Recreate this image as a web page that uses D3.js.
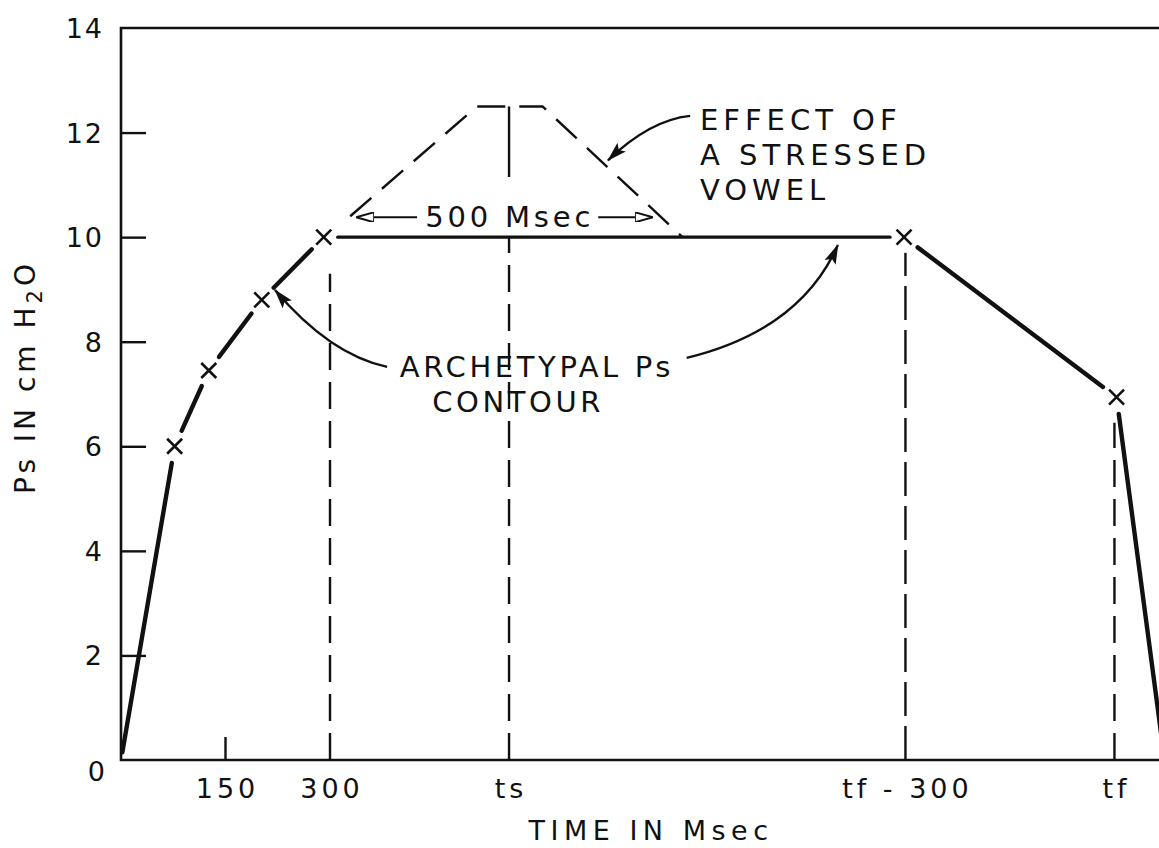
<!DOCTYPE html>
<html><head><meta charset="utf-8">
<script src="https://cdn.jsdelivr.net/npm/d3@7"></script>
<style>
body{margin:0;background:#fff}
svg text{font-family:"DejaVu Sans",sans-serif;fill:#111}
</style>
</head><body>
<svg id="c" width="1159" height="848"></svg>
<script>
// ---------- data ----------
const xDomain = [0, 1500];           // time, ms (ts and tf placed on the same scale)
const yDomain = [0, 14];             // Ps in cm H2O
const yTickValues = [0, 2, 4, 6, 8, 10, 12, 14];
const yTickLabels = ["0", "2", "4", "6", "8", "10", "12", "14"];
const xTickValues = [150, 300, 557, 1126, 1426];
const xTickLabels = ["150", "300", "ts", "tf - 300", "tf"];
// archetypal Ps contour
const contourTimes  = [2, 77, 126, 202, 291, 1124, 1429, 1498];
const contourValues = [0.15, 6, 7.45, 8.8, 10, 10, 6.94, 0];
const markerIndex   = [1, 2, 3, 4, 5, 6];
// effect of a stressed vowel (dashed)
const vowelTimes  = [329, 511, 605, 806];
const vowelValues = [10.4, 12.5, 12.5, 10];
// vertical reference lines (dashed)
const guideTimes  = [300, 557, 1126, 1426];
const guideTops   = [9.3, 10, 9.7, 6.45];
const tsStemTop = 12.5, tsStemBottom = 11.15;
// annotations [time, value]
const effectLines = ["EFFECT OF", "A STRESSED", "VOWEL"];
const effectPos = [831, 12.05];
const effectArrow = [[817, 12.32], [759, 12.24], [699, 11.47]];
const archLines = ["ARCHETYPAL Ps", "CONTOUR"];
const archPos = [[597, 7.32], [570, 6.65]];
const archArrowLeft  = [[382, 7.52], [300, 7.75], [221, 8.99]];
const archArrowRight = [[812, 7.69], [975, 8.22], [1029, 9.85]];
const spanLabel = "500 Msec";
const spanPos = [558, 10.19];
const spanArrowLeft  = [[425, 10.38], [339, 10.38]];
const spanArrowRight = [[685, 10.38], [762, 10.38]];

// ---------- layout ----------
const svg = d3.select("#c");
const x = d3.scaleLinear().domain(xDomain).range([121, 1166]);
const y = d3.scaleLinear().domain(yDomain).range([760, 28]);
const ink = "#111";

const defs = svg.append("defs");
defs.append("marker").attr("id", "ah").attr("viewBox", "0 0 20 12")
  .attr("refX", 19).attr("refY", 6).attr("markerWidth", 20).attr("markerHeight", 12)
  .attr("markerUnits", "userSpaceOnUse").attr("orient", "auto")
  .append("path").attr("d", "M0,0 L20,6 L0,12 L4,6 Z").attr("fill", ink);
defs.append("marker").attr("id", "ah2").attr("viewBox", "0 0 18 10")
  .attr("refX", 17).attr("refY", 5).attr("markerWidth", 18).attr("markerHeight", 10)
  .attr("markerUnits", "userSpaceOnUse").attr("orient", "auto")
  .append("path").attr("d", "M0,0 L18,5 L0,10 Z").attr("fill", "#fff").attr("stroke", ink).attr("stroke-width", 2);

// frame
const g = svg.append("g");
g.append("path")
  .attr("d", `M${x(xDomain[1]) + 10},${y(14)} L${x(0)},${y(14)} L${x(0)},${y(0)} L${x(xDomain[1]) + 10},${y(0)}`)
  .attr("fill", "none").attr("stroke", ink).attr("stroke-width", 2.6);

// y ticks (inward) + labels
const yAxis = d3.axisRight(y).tickValues(yTickValues.filter(v => v > 0 && v < 14))
  .tickSize(25).tickFormat("");
g.append("g").attr("transform", `translate(${x(0)},0)`).call(yAxis)
  .call(s => s.select(".domain").remove())
  .call(s => s.selectAll("line").attr("stroke", ink).attr("stroke-width", 2.4));
g.selectAll(".ylab").data(yTickValues).join("text")
  .attr("class", "ylab")
  .attr("x", d => d === 0 ? x(0) - 14 : x(0) - 17)
  .attr("y", d => d === 0 ? y(d) + 21 : y(d) + 10)
  .attr("text-anchor", "end").attr("font-size", 27).attr("letter-spacing", 2)
  .text((d, i) => yTickLabels[i]);

// x tick at 150 (inward)
g.append("line").attr("x1", x(150)).attr("x2", x(150)).attr("y1", y(0)).attr("y2", y(0) - 23)
  .attr("stroke", ink).attr("stroke-width", 2.4);
g.selectAll(".xlab").data(xTickValues).join("text")
  .attr("class", "xlab")
  .attr("x", d => x(d) + 2).attr("y", y(0) + 38)
  .attr("text-anchor", "middle").attr("font-size", 27).attr("letter-spacing", 4)
  .text((d, i) => xTickLabels[i]);

// axis titles
svg.append("text").attr("x", 651).attr("y", 840).attr("text-anchor", "middle")
  .attr("font-size", 27).attr("letter-spacing", 5.5).text("TIME IN Msec");
const yt = svg.append("text").attr("transform", "translate(35,377) rotate(-90)")
  .attr("text-anchor", "middle").attr("font-size", 28).attr("letter-spacing", 4);
yt.append("tspan").text("Ps  IN cm H");
yt.append("tspan").attr("dy", 7).attr("font-size", 21).text("2");
yt.append("tspan").attr("dy", -7).text("O");

// dashed vertical guides
guideTimes.forEach((t, i) => {
  g.append("path").attr("d", d3.line()([[x(t), y(0)], [x(t), y(guideTops[i])]]))
    .attr("stroke", ink).attr("stroke-width", 2.4).attr("fill", "none")
    .attr("stroke-dasharray", i === 2 ? "34,10" : "27,12");
});
g.append("path").attr("d", d3.line()([[x(guideTimes[1]), y(tsStemTop)], [x(guideTimes[1]), y(tsStemBottom)]]))
  .attr("stroke", ink).attr("stroke-width", 2.4);

// stressed vowel dashed contour
g.append("path")
  .attr("d", d3.line().x((d, i) => x(vowelTimes[i])).y(d => y(d))(vowelValues))
  .attr("fill", "none").attr("stroke", ink).attr("stroke-width", 2.4)
  .attr("stroke-dasharray", "28,14");

// archetypal contour: solid segments interrupted at the X markers
const pts = contourTimes.map((t, i) => [x(t), y(contourValues[i])]);
for (let i = 0; i < pts.length - 1; i++) {
  const a = pts[i], b = pts[i + 1];
  const dx = b[0] - a[0], dy = b[1] - a[1], L = Math.hypot(dx, dy);
  const ux = dx / L, uy = dy / L;
  const horiz = Math.abs(dy) < 1;
  const gap = horiz ? 14 : 17;
  const s = markerIndex.includes(i) ? gap : 0;
  const e = markerIndex.includes(i + 1) ? gap : 0;
  g.append("path")
    .attr("d", d3.line()([[a[0] + ux * s, a[1] + uy * s], [b[0] - ux * e, b[1] - uy * e]]))
    .attr("stroke", ink).attr("stroke-width", horiz ? 3.2 : 4.4).attr("stroke-linecap", "round").attr("fill", "none");
}
// X markers
g.selectAll(".xm").data(markerIndex).join("path")
  .attr("class", "xm")
  .attr("d", i => { const [px, py] = pts[i]; const h = 7.5;
    return `M${px - h},${py - h}L${px + h},${py + h}M${px + h},${py - h}L${px - h},${py + h}`; })
  .attr("stroke", ink).attr("stroke-width", 2.6).attr("fill", "none");

// curved annotation arrows
function curve(p) {
  const c = d3.path();
  c.moveTo(x(p[0][0]), y(p[0][1]));
  c.quadraticCurveTo(x(p[1][0]), y(p[1][1]), x(p[2][0]), y(p[2][1]));
  return c.toString();
}
[effectArrow, archArrowLeft, archArrowRight].forEach(p => {
  g.append("path").attr("d", curve(p)).attr("fill", "none").attr("stroke", ink)
    .attr("stroke-width", 2.4).attr("marker-end", "url(#ah)");
});
[spanArrowLeft, spanArrowRight].forEach(p => {
  g.append("path").attr("d", d3.line()(p.map(q => [x(q[0]), y(q[1])])))
    .attr("fill", "none").attr("stroke", ink).attr("stroke-width", 2)
    .attr("marker-end", "url(#ah2)");
});

// annotation texts
effectLines.forEach((s, i) => {
  svg.append("text").attr("x", x(effectPos[0])).attr("y", y(effectPos[1]) + i * 35)
    .attr("font-size", 29).attr("letter-spacing", 5).text(s);
});
archLines.forEach((s, i) => {
  svg.append("text").attr("x", x(archPos[i][0])).attr("y", y(archPos[i][1]))
    .attr("text-anchor", "middle").attr("font-size", 29).attr("letter-spacing", 3.6).text(s);
});
svg.append("text").attr("x", x(spanPos[0])).attr("y", y(spanPos[1]))
  .attr("text-anchor", "middle").attr("font-size", 29).attr("letter-spacing", 3.8).text(spanLabel);
</script>
</body></html>
